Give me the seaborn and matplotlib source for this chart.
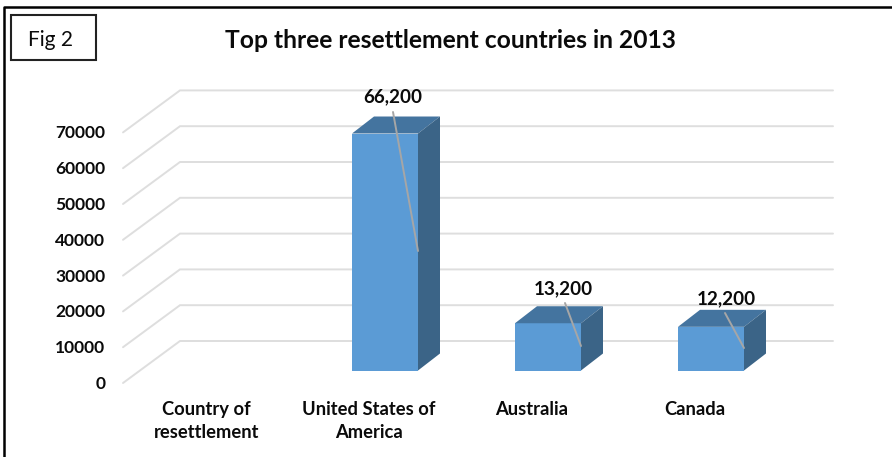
import matplotlib
matplotlib.use("Agg")
import matplotlib.pyplot as plt
from matplotlib.patches import Polygon, Rectangle
from matplotlib.transforms import ScaledTranslation
import pandas as pd
import seaborn as sns

TITLE = "Top three resettlement countries in 2013"
FIG_LABEL = "Fig 2"
countries = ["Country of\nresettlement", "United States of\nAmerica", "Australia", "Canada"]
arrivals = [0, 66200, 13200, 12200]
value_labels = ["", "66,200", "13,200", "12,200"]
axis_ticks = [0, 10000, 20000, 30000, 40000, 50000, 60000, 70000]

W, H = 892, 457
sns.set_theme(style="white")
plt.rcParams["font.family"] = ["Lato", "DejaVu Sans"]

fig = plt.figure(figsize=(W / 100, H / 100), dpi=100)
ax = fig.add_axes([0, 0, 1, 1])

# Full-figure axes: one category step is 163 px, 10000 units is 35.8 px,
# and the bar baseline sits 370 px from the top.
px_per_cat = 163.0
px_per_unit = 35.8 / 10000
bar_px = 66.0
x_of = lambda px: (px - 222.0) / px_per_cat
y_of = lambda py: (370.5 - py) / px_per_unit
dx_cat = lambda px: px / px_per_cat
dy_val = lambda px: px / px_per_unit

frame = pd.DataFrame({"country": countries, "arrivals": arrivals})
sns.barplot(data=frame, x="country", y="arrivals", color="#5B9BD5", saturation=1,
            width=bar_px / px_per_cat, linewidth=0, ax=ax, zorder=3)
ax.set_xlim(x_of(0), x_of(W))
ax.set_ylim(y_of(H), y_of(0))
ax.set_xlabel("")
ax.set_ylabel("")
sns.despine(ax=ax, left=True, bottom=True)
ax.patch.set_alpha(0)

# Sloped floor-to-wall gridlines with a horizontal run along the back wall
wall_dx, wall_dy = dx_cat(57), dy_val(42)
front_x = x_of(123)
back_right = x_of(833)
floor_drop = dy_val(12.5)
for v in axis_ticks:
    y0 = v - floor_drop
    ax.plot([front_x, front_x + wall_dx, back_right],
            [y0, y0 + wall_dy, y0 + wall_dy],
            color="#DEDEDE", lw=1.4, zorder=1, solid_joinstyle="miter")

# Top and side faces give each bar its depth
depth_x, depth_y = dx_cat(22), dy_val(17)
half = (bar_px / px_per_cat) / 2
for i, v in enumerate(arrivals):
    if v == 0:
        continue
    l, r = i - half, i + half
    ax.add_patch(Polygon([(l, v), (r, v), (r + depth_x, v + depth_y), (l + depth_x, v + depth_y)],
                         closed=True, fc="#44749F", ec="none", zorder=4))
    ax.add_patch(Polygon([(r, 0), (r + depth_x, depth_y), (r + depth_x, v + depth_y), (r, v)],
                         closed=True, fc="#3B6487", ec="none", zorder=4))

# Value labels with their leader lines
label_px = [None, (392.5, 97), (563.5, 288.5), (726.5, 298.5)]
leader_px = [None, ((393, 112), (418, 251)), ((565, 303), (581, 346)), ((725, 313), (744, 348))]
for i, text in enumerate(value_labels):
    if not text:
        continue
    lx, ly = label_px[i]
    ax.text(x_of(lx), y_of(ly), text, ha="center", va="center",
            fontsize=13.6, fontweight="bold", color="#0A0A0A", zorder=6)
    (ax1, ay1), (ax2, ay2) = leader_px[i]
    ax.plot([x_of(ax1), x_of(ax2)], [y_of(ay1), y_of(ay2)], color="#A6A6A6", lw=1.4, zorder=5)

# Axis labels, nudged off their tick positions onto the floor edge
ax.set_yticks(axis_ticks)
ax.set_yticklabels([str(v) for v in axis_ticks])
ax.tick_params(axis="both", length=0)
y_shift = ScaledTranslation(110 / 100, -12 / 100, fig.dpi_scale_trans)
for lab in ax.get_yticklabels():
    lab.set_transform(lab.get_transform() + y_shift)
    lab.set_ha("right")
    lab.set_fontsize(12.5)
    lab.set_fontweight("bold")
    lab.set_color("#0A0A0A")

ax.set_xticks(range(len(countries)))
ax.set_xticklabels(countries)
x_label_px = [206.5, 368.5, 531.5, 694.5]
for i, lab in enumerate(ax.get_xticklabels()):
    lab.set_position((i, 0))
    lab.set_transform(ax.transData + ScaledTranslation((x_label_px[i] - (222.0 + px_per_cat * i)) / 100, -30.5 / 100, fig.dpi_scale_trans))
    lab.set_ha("center")
    lab.set_va("top")
    lab.set_fontsize(13.2)
    lab.set_fontweight("bold")
    lab.set_color("#0A0A0A")
    lab.set_linespacing(1.42)

fig.text(450 / W, 1 - 41 / H, TITLE, ha="center", va="center",
         fontsize=17.7, fontweight="bold", color="#0A0A0A")

# Caption box and outer frame, open on the right and bottom
fig.add_artist(Rectangle((11 / W, 1 - 60 / H), 85 / W, 45 / H, transform=fig.transFigure,
                         fc="white", ec="#222222", lw=1.5))
fig.text(50.5 / W, 1 - 40 / H, FIG_LABEL, ha="center", va="center", fontsize=15, color="#0A0A0A")
fig.add_artist(plt.Line2D([3.5 / W, 3.5 / W, 1],
                          [0, 1 - 7 / H, 1 - 7 / H],
                          transform=fig.transFigure, color="black", lw=1.8))

fig.savefig("out.png", dpi=100)
